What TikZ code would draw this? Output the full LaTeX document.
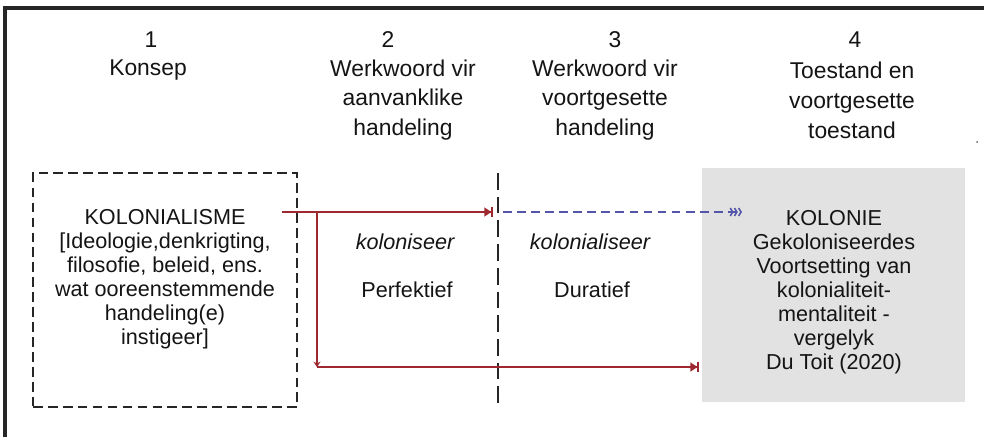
\documentclass[tikz,border=0pt]{standalone}
\usepackage{fontspec}
\setmainfont{Liberation Sans}
\usetikzlibrary{arrows.meta}

\definecolor{arrowred}{RGB}{158,40,48}
\definecolor{arrowblue}{RGB}{84,84,168}
\definecolor{boxgray}{RGB}{226,226,226}
\definecolor{textgray}{RGB}{20,20,20}

\begin{document}
\begin{tikzpicture}[x=0.02cm, y=-0.02cm]
    \tikzstyle{every node} = [text=textgray, font=\fontsize{12.3}{13.6}\selectfont]
    \tikzstyle{head}    = [align=center, inner sep=0pt, font=\fontsize{13}{17}\selectfont]
    \tikzstyle{concept} = [rectangle, draw=black!85, line width=1.2pt, dash pattern=on 5.5pt off 3pt, minimum width=5.28cm, minimum height=4.68cm, inner sep=0pt]
    \tikzstyle{state}   = [rectangle, fill=boxgray, minimum width=5.26cm, minimum height=4.68cm, inner sep=0pt]
    \tikzstyle{body}    = [align=center, inner sep=0pt]
    \tikzstyle{divider} = [draw=black!85, line width=1.2pt, dash pattern=on 9.5pt off 4pt]
    \tikzstyle{line}    = [draw=arrowred, line width=0.9pt, -{Triangle[length=4pt,width=5pt]Bar[width=6pt]}]
    \tikzstyle{trail}   = [draw=arrowblue, line width=0.9pt, dash pattern=on 5pt off 3pt,
                           -{Straight Barb[length=1.4pt,width=4.5pt]Straight Barb[length=1.4pt,width=4.5pt]Straight Barb[length=1.4pt,width=4.5pt]}]

    \useasboundingbox (0,0) rectangle (984,437);

    % frame
    \draw [black!85, line width=1.9pt] (5,437) -- (5,8) -- (984,8);
    \fill [black!60] (977,142) circle (1);

    % Headings
    \node [head] (num1) at (151,40) {1};
    \node [head] (num2) at (388,40) {2};
    \node [head] (num3) at (615,40) {3};
    \node [head] (num4) at (855,40) {4};
    \node [head] (head1) at (148,70)  {Konsep};
    \node [head] (head2) at (403,100) {Werkwoord vir\\aanvanklike\\handeling};
    \node [head] (head3) at (605,100) {Werkwoord vir\\voortgesette\\handeling};
    \node [head] (head4) at (852,100) {Toestand en\\voortgesette\\toestand};

    % Place nodes
    \node [concept] (konsep) at (165,290) {};
    \node [body] (konseptext) at (165,279) {KOLONIALISME\\{[}Ideologie,denkrigting,\\filosofie, beleid, ens.\\wat ooreenstemmende\\handeling(e)\\instigeer{]}};
    \node [state] (kolonie) at (833.5,285) {};
    \node [body] (kolonietext) at (834,292) {KOLONIE\\Gekoloniseerdes\\Voortsetting van\\kolonialiteit-\\mentaliteit -\\vergelyk\\Du Toit (2020)};

    % Verbs
    \node [body, font=\fontsize{12.3}{13.6}\selectfont\itshape] (perf) at (405,242) {koloniseer};
    \node [body] (perflabel) at (407,290) {Perfektief};
    \node [body, font=\fontsize{12.3}{13.6}\selectfont\itshape] (dur) at (590,242) {kolonialiseer};
    \node [body] (durlabel) at (592,290) {Duratief};

    % divider between 2 and 3
    \coordinate (divtop) at (498,173);
    \coordinate (divbot) at (498,403);
    \path [divider] (divtop) -- (divbot);

    % connectors
    \coordinate (src)    at (282,212);
    \coordinate (split)  at (317,212);
    \coordinate (corner) at (317,367);
    \coordinate (tip)    at (493,212);
    \coordinate (dashin) at (503,212);
    \coordinate (dashout) at (742,212);

    \path [line] (src) -- (tip);
    \path [line, -{Stealth[length=3pt,width=4pt]}] (split) -- (corner);
    \path [line, shorten >=1.5pt] (corner) -- (kolonie.west |- corner);
    \path [trail] (dashin) -- (dashout);
\end{tikzpicture}
\end{document}
